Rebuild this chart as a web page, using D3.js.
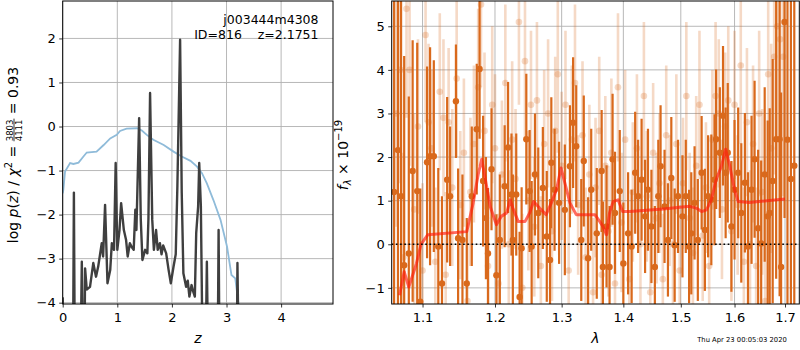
<!DOCTYPE html>
<html>
<head>
<meta charset="utf-8">
<script src="https://cdnjs.cloudflare.com/ajax/libs/d3/7.8.5/d3.min.js"></script>
<style>
  body { margin: 0; background: #fff; }
  svg  { font-family: "DejaVu Sans", sans-serif; }
  text { white-space: pre; }
</style>
</head>
<body>
<div id="chart"></div>
<script>

// ---- left panel: redshift probability ----
var zPz  = [0, 0.012, 0.043, 0.135, 0.196, 0.29, 0.38, 0.44, 0.62, 0.75,
            0.87, 0.99, 1.05, 1.17, 1.36, 1.45, 1.54, 1.66, 1.85, 2.03,
            2.18, 2.34, 2.46, 2.55, 2.64, 2.76, 2.89, 3.01, 3.09, 3.16,
            3.22, 3.3];
var logPz = [-1.52, -1.44, -1.02, -0.83, -0.85, -0.82, -0.68, -0.59, -0.57, -0.42,
             -0.27, -0.19, -0.10, -0.05, -0.04, -0.09, -0.19, -0.30, -0.42, -0.57,
             -0.68, -0.78, -0.91, -1.06, -1.29, -1.67, -2.12, -2.73, -3.37, -3.45,
             -4.03, -4.6];

var zChi   = [0, 0.02, 0.19, 0.205, 0.22, 0.33, 0.35, 0.37, 0.40, 0.41,
              0.44, 0.5, 0.56, 0.61, 0.65, 0.715, 0.74, 0.776, 0.82, 0.87,
              0.9, 0.94, 0.97, 1.0, 1.04, 1.07, 1.12, 1.16, 1.19, 1.23,
              1.27, 1.30, 1.33, 1.35, 1.40, 1.43, 1.46, 1.51, 1.55, 1.57,
              1.60, 1.64, 1.67, 1.71, 1.74, 1.78, 1.81, 1.84, 1.895, 1.94,
              1.98, 2.03, 2.07, 2.10, 2.15, 2.18, 2.21, 2.26, 2.29, 2.32,
              2.36, 2.39, 2.42, 2.445, 2.48, 2.50, 2.53, 2.56, 2.62, 2.64,
              2.66, 2.84, 2.855, 2.87, 3.19, 3.20, 3.22, 3.5];
var logChi = [-3.88, -5, -5, -1.5, -5, -5, -3.07, -5, -5, -3.22,
              -3.7, -3.64, -3.1, -3.41, -3.18, -2.65, -2.95, -1.78, -3.56, -3.26,
              -2.65, -2.8, -0.83, -2.8, -2.35, -1.74, -2.35, -2.57, -2.95, -2.65,
              -2.75, -2.8, -1.89, -2.35, 0.19, -2.12, -3.03, -2.8, -2.88, -2.1,
              0.76, -2.12, -2.8, -2.35, -2.8, -2.65, -2.9, -2.7, -2.88, -3.26,
              -3.56, -3.18, -2.9, -1.36, 1.97, -1.51, -3.33, -3.64, -3.5, -3.86,
              -3.6, -3.75, -3.86, -2.42, -1.82, -0.83, -1.8, -5, -5, -3.07,
              -5, -5, -2.35, -5, -5, -3.1, -5, -5];

var zTicks  = [0, 1, 2, 3, 4];
var pzTicks = [-4, -3, -2, -1, 0, 1, 2];

// ---- right panel: spectrum ----
var lamDark  = [1.063, 1.068, 1.072, 1.076, 1.082, 1.087, 1.093, 1.097, 1.106, 1.110,
                1.115, 1.121, 1.126, 1.133, 1.137, 1.145, 1.148, 1.154, 1.160, 1.167,
                1.174, 1.178, 1.183, 1.187, 1.190, 1.195, 1.202, 1.207, 1.214, 1.219,
                1.224, 1.226, 1.231, 1.236, 1.239, 1.246, 1.251, 1.254, 1.259, 1.264,
                1.271, 1.277, 1.282, 1.284, 1.289, 1.296, 1.305, 1.313, 1.318, 1.323,
                1.331, 1.335, 1.342, 1.347, 1.356, 1.364, 1.366, 1.372, 1.377, 1.382,
                1.386, 1.394, 1.400, 1.408, 1.414, 1.420, 1.425, 1.431, 1.437, 1.442,
                1.448, 1.454, 1.460, 1.464, 1.471, 1.477, 1.483, 1.489, 1.495, 1.503,
                1.509, 1.515, 1.519, 1.525, 1.531, 1.538, 1.544, 1.550, 1.556, 1.562,
                1.565, 1.572, 1.578, 1.583, 1.587, 1.594, 1.600, 1.607, 1.613, 1.620,
                1.626, 1.633, 1.639, 1.646, 1.652, 1.659, 1.665, 1.669, 1.675, 1.682,
                1.689, 1.692, 1.699, 1.705, 1.712, 1.719];
var fluxDark = [1.2, 2.16, 1.10, -0.48, -0.21, 1.68, 1.22, -1.32, 1.88, 2.02,
                2.02, -0.05, -0.90, 1.48, 1.10, 3.28, 0.14, 0.10, -0.90, 1.10,
                2.64, 4.02, 1.45, 0.60, -0.21, 1.72, -0.71, 0.10, 1.33, 2.22,
                1.14, 0.10, 1.14, -1.21, -0.09, 2.41, 1.22, -0.05, 1.60, 0.72,
                1.29, 0.18, -0.36, 1.87, 1.25, 0.95, 0.79, 1.79, 2.79, 2.25,
                0.10, 1.91, -0.32, 1.25, 0.25, 1.68, -0.52, 0.41, -0.52, 1.95,
                0.72, 1.22, -0.44, 0.25, -0.05, 1.64, 1.10, 1.48, 0.64, 1.25,
                0.41, -0.52, 1.10, 1.79, 0.87, 0.10, 1.52, -0.02, 1.10, 0.64,
                1.10, -0.05, 0.25, 0.95, 0.10, 1.64, 0.33, 1.10, 1.02, 1.48,
                2.41, 2.10, 2.95, 1.64, 2.10, 0.41, 1.25, 1.64, 0.72, 1.41,
                -0.05, 1.25, 1.95, 0.37, 0.02, 1.60, 0.64, 0.72, 1.45, 2.41,
                2.41, -0.52, 5.10, 2.4, 1.5, 1.8];
var errDark  = [6.0, 4.2, 5.0, 4.8, 3.6, 3.0, 3.4, 2.6, 2.2, 2.5,
                2.2, 1.8, 2.0, 1.9, 1.6, 1.3, 1.6, 1.5, 1.5, 1.6,
                1.5, 1.6, 1.5, 1.4, 1.5, 1.4, 1.4, 1.5, 1.4, 1.5,
                1.4, 1.5, 1.4, 1.5, 1.4, 1.5, 1.4, 1.5, 1.4, 1.5,
                1.4, 1.5, 1.4, 1.5, 1.4, 1.4, 1.5, 1.4, 1.5, 1.4,
                1.4, 1.5, 1.4, 1.4, 1.5, 1.4, 1.5, 1.4, 1.4, 1.5,
                1.4, 1.4, 1.4, 1.4, 1.3, 1.4, 1.3, 1.4, 1.3, 1.4,
                1.3, 1.4, 1.3, 1.4, 1.3, 1.3, 1.4, 1.3, 1.3, 1.4,
                1.3, 1.3, 1.4, 1.3, 1.4, 1.3, 1.4, 1.4, 1.5, 1.5,
                1.6, 1.5, 1.6, 1.5, 1.6, 1.5, 1.6, 1.5, 1.6, 1.6,
                1.7, 1.7, 1.8, 1.8, 1.9, 2.0, 2.2, 2.4, 2.8, 3.2,
                3.6, 4.0, 4.5, 5.5, 6.0, 6.0];

var lamLight  = [1.066, 1.071, 1.075, 1.079, 1.083, 1.089, 1.094, 1.100, 1.104, 1.108,
                 1.112, 1.117, 1.123, 1.128, 1.131, 1.135, 1.140, 1.146, 1.151, 1.156,
                 1.161, 1.165, 1.170, 1.176, 1.180, 1.185, 1.190, 1.196, 1.200, 1.205,
                 1.210, 1.215, 1.220, 1.225, 1.230, 1.235, 1.240, 1.244, 1.249, 1.253,
                 1.258, 1.262, 1.268, 1.273, 1.279, 1.285, 1.290, 1.294, 1.300, 1.306,
                 1.311, 1.316, 1.321, 1.326, 1.333, 1.338, 1.344, 1.350, 1.354, 1.360,
                 1.364, 1.370, 1.375, 1.380, 1.386, 1.391, 1.397, 1.403, 1.410, 1.416,
                 1.423, 1.429, 1.435, 1.440, 1.446, 1.451, 1.457, 1.462, 1.468, 1.474,
                 1.480, 1.486, 1.492, 1.498, 1.504, 1.510, 1.516, 1.522, 1.528, 1.534,
                 1.540, 1.546, 1.552, 1.558, 1.564, 1.570, 1.576, 1.582, 1.588, 1.594,
                 1.600, 1.606, 1.612, 1.618, 1.624, 1.630, 1.636, 1.642, 1.648, 1.654,
                 1.660, 1.666, 1.672, 1.678, 1.684, 1.690, 1.696];
var fluxLight = [3.0, 4.0, -0.3, 5.4, 4.0, 0.8, 2.7, -0.6, 4.8, 2.8,
                 2.2, -0.4, 3.5, 2.9, -0.7, 2.8, 1.3, 3.8, 0.9, 2.1,
                 -1.3, 1.2, 2.3, 3.6, 5.5, 2.6, -0.5, 3.2, 2.2, -0.9,
                 1.6, 3.7, 0.0, 2.4, 1.5, 5.1, -1.0, 4.2, 1.0, 3.2,
                 0.4, 3.3, -0.5, 2.3, 3.0, 0.3, 2.6, 3.9, 1.8, 3.2,
                 -0.6, 2.4, 3.7, 0.9, 2.5, -0.3, 1.6, -1.1, 1.3, 2.6,
                 -0.7, 1.8, 0.3, 2.1, -0.9, 3.6, 0.5, 2.4, -0.8, 1.2,
                 2.2, 0.0, 3.4, 1.1, -1.1, 2.1, 0.6, 1.4, -0.8, 2.5,
                 1.0, 0.0, 2.3, -0.6, 1.4, 3.4, 0.6, -0.2, 1.8, 3.2,
                 0.2, 1.3, -0.5, 2.4, 3.4, 3.0, 0.8, 2.7, 3.3, 0.3,
                 3.2, 0.9, 4.1, -0.4, 2.8, 0.0, 2.3, -0.5, 3.0, 1.2,
                 -1.3, 3.9, 2.2, 4.3, 5.0, 4.7, 4.3];
var errLight  = [2.6, 2.6, 2.4, 2.5, 2.2, 2.2, 2.0, 2.0, 2.0, 1.8,
                 1.8, 1.7, 1.8, 1.8, 1.9, 1.7, 1.8, 1.8, 1.7, 1.7,
                 1.8, 1.7, 1.8, 1.8, 1.9, 1.8, 1.7, 1.8, 1.7, 1.6,
                 1.7, 1.8, 1.7, 1.8, 1.6, 1.9, 1.7, 1.8, 1.6, 1.7,
                 1.6, 1.8, 1.6, 1.7, 1.7, 1.6, 1.7, 1.8, 1.7, 1.7,
                 1.6, 1.7, 1.8, 1.6, 1.7, 1.6, 1.6, 1.7, 1.6, 1.7,
                 1.6, 1.6, 1.5, 1.7, 1.6, 1.7, 1.6, 1.6, 1.5, 1.6,
                 1.7, 1.5, 1.7, 1.5, 1.6, 1.6, 1.5, 1.6, 1.5, 1.6,
                 1.5, 1.5, 1.6, 1.5, 1.5, 1.7, 1.5, 1.5, 1.6, 1.7,
                 1.5, 1.5, 1.6, 1.6, 1.7, 1.7, 1.6, 1.7, 1.7, 1.6,
                 1.7, 1.6, 1.8, 1.7, 1.7, 1.7, 1.8, 1.8, 1.9, 1.9,
                 2.0, 2.2, 2.4, 2.7, 3.0, 3.2, 3.2];

var lamModel  = [1.070, 1.076, 1.082, 1.092, 1.098, 1.107, 1.160, 1.169, 1.176, 1.181,
                 1.188, 1.193, 1.202, 1.209, 1.217, 1.222, 1.226, 1.234, 1.244, 1.251,
                 1.257, 1.266, 1.276, 1.284, 1.292, 1.299, 1.305, 1.313, 1.323, 1.353,
                 1.361, 1.366, 1.372, 1.377, 1.383, 1.391, 1.399, 1.411, 1.4685, 1.516,
                 1.528, 1.538, 1.547, 1.556, 1.565, 1.575, 1.583, 1.591, 1.600, 1.607,
                 1.629, 1.700];
var fluxModel = [-1.17, -0.63, -0.98, -0.44, 0.0, 0.22, 0.29, 0.95, 1.6, 1.95,
                 1.33, 0.87, 0.45, 0.64, 0.72, 1.02, 0.83, 0.52, 0.52, 0.72,
                 0.98, 0.83, 0.68, 0.95, 1.25, 1.75, 1.41, 0.95, 0.68, 0.68,
                 0.52, 0.41, 0.22, 0.72, 0.98, 1.02, 0.75, 0.75, 0.81, 0.87,
                 0.83, 0.75, 0.79, 1.02, 1.48, 1.79, 2.18, 1.79, 1.25, 0.98,
                 0.96, 1.04];

var lamTicks  = [1.1, 1.2, 1.3, 1.4, 1.5, 1.6, 1.7];
var fluxTicks = [-1, 0, 1, 2, 3, 4, 5];


var width  = 800,
    height = 350;

var orange = "#d9691c";

var svg = d3.select("#chart")
            .append("svg")
            .attr("width", width)
            .attr("height", height);

svg.append("rect").attr("width", width).attr("height", height).attr("fill", "#fff");

var L = { x0: 62.7, x1: 333, y0: 1, y1: 304 };
var R = { x0: 391.7, x1: 799.3, y0: 1, y1: 304 };

var xL = d3.scaleLinear().domain([0, 4.95]).range([L.x0, L.x1]);
var yL = d3.scaleLinear().domain([-4.03, 2.85]).range([L.y1, L.y0]);
var xR = d3.scaleLog().domain([1.06, 1.7294]).range([R.x0, R.x1]);
var yR = d3.scaleLinear().domain([-1.37, 5.58]).range([R.y1, R.y0]);

var defs = svg.append("defs");
defs.append("clipPath").attr("id", "clipL").append("rect")
    .attr("x", L.x0).attr("y", L.y0).attr("width", L.x1 - L.x0).attr("height", L.y1 - L.y0);
defs.append("clipPath").attr("id", "clipR").append("rect")
    .attr("x", R.x0).attr("y", R.y0).attr("width", R.x1 - R.x0).attr("height", R.y1 - R.y0);

// grid lines
function grid(box, xs, ys, xt, yt) {
  var g = svg.append("g").attr("stroke", "#b0b0b0").attr("stroke-width", 0.9);
  g.selectAll(".gx").data(xt).enter().append("line")
   .attr("x1", function(d) { return xs(d); }).attr("x2", function(d) { return xs(d); })
   .attr("y1", box.y0).attr("y2", box.y1);
  g.selectAll(".gy").data(yt).enter().append("line")
   .attr("y1", function(d) { return ys(d); }).attr("y2", function(d) { return ys(d); })
   .attr("x1", box.x0).attr("x2", box.x1);
}
grid(L, xL, yL, zTicks, pzTicks);
grid(R, xR, yR, lamTicks, fluxTicks);

// ---- left panel lines
var lp = svg.append("g").attr("clip-path", "url(#clipL)");

lp.append("path")
  .datum(d3.zip(zPz, logPz))
  .attr("fill", "none")
  .attr("stroke", "#8fbbd9")
  .attr("stroke-width", 1.8)
  .attr("d", d3.line().x(function(d) { return xL(d[0]); }).y(function(d) { return yL(d[1]); }));

lp.append("path")
  .datum(d3.zip(zChi, logChi))
  .attr("fill", "none")
  .attr("stroke", "#3f3f3f")
  .attr("stroke-width", 2.4)
  .attr("stroke-linejoin", "round")
  .attr("d", d3.line().x(function(d) { return xL(d[0]); }).y(function(d) { return yL(d[1]); }));

// ---- right panel spectrum
var rp = svg.append("g").attr("clip-path", "url(#clipR)");

var light = d3.range(lamLight.length);
rp.append("g").selectAll("line").data(light).enter().append("line")
  .attr("x1", function(i) { return xR(lamLight[i]); })
  .attr("x2", function(i) { return xR(lamLight[i]); })
  .attr("y1", function(i) { return yR(fluxLight[i] - errLight[i]); })
  .attr("y2", function(i) { return yR(fluxLight[i] + errLight[i]); })
  .attr("stroke", orange).attr("stroke-opacity", 0.25).attr("stroke-width", 2.6);
rp.append("g").selectAll("circle").data(light).enter().append("circle")
  .attr("cx", function(i) { return xR(lamLight[i]); })
  .attr("cy", function(i) { return yR(fluxLight[i]); })
  .attr("r", 3.3)
  .attr("fill", orange).attr("fill-opacity", 0.25);

var dark = d3.range(lamDark.length);
rp.append("g").selectAll("line").data(dark).enter().append("line")
  .attr("x1", function(i) { return xR(lamDark[i]); })
  .attr("x2", function(i) { return xR(lamDark[i]); })
  .attr("y1", function(i) { return yR(fluxDark[i] - errDark[i]); })
  .attr("y2", function(i) { return yR(fluxDark[i] + errDark[i]); })
  .attr("stroke", orange).attr("stroke-width", 2.2);
rp.append("g").selectAll("circle").data(dark).enter().append("circle")
  .attr("cx", function(i) { return xR(lamDark[i]); })
  .attr("cy", function(i) { return yR(fluxDark[i]); })
  .attr("r", 3.2)
  .attr("fill", orange);

rp.append("path")
  .datum(d3.zip(lamModel, fluxModel))
  .attr("fill", "none")
  .attr("stroke", "#ff1a0a")
  .attr("stroke-opacity", 0.65)
  .attr("stroke-width", 3)
  .attr("stroke-linejoin", "round")
  .attr("d", d3.line().x(function(d) { return xR(d[0]); }).y(function(d) { return yR(d[1]); }));

rp.append("line")
  .attr("x1", R.x0).attr("x2", R.x1)
  .attr("y1", yR(0)).attr("y2", yR(0))
  .attr("stroke", "#000").attr("stroke-width", 1.6)
  .attr("stroke-dasharray", "1.6,2.6");

// ---- axes
function styleAxis(g) {
  g.select(".domain").remove();
  g.selectAll(".tick line").attr("stroke", "#000").attr("stroke-width", 0.8);
  g.selectAll(".tick text").attr("fill", "#000")
   .attr("font-size", 13).attr("font-family", "DejaVu Sans");
}

var intFmt = d3.format("d");

svg.append("g").attr("transform", "translate(0," + L.y1 + ")")
   .call(d3.axisBottom(xL).tickValues(zTicks).tickFormat(intFmt).tickSize(3.5).tickPadding(5))
   .call(styleAxis);
svg.append("g").attr("transform", "translate(" + L.x0 + ",0)")
   .call(d3.axisLeft(yL).tickValues(pzTicks).tickFormat(intFmt).tickSize(3.5).tickPadding(3.5))
   .call(styleAxis);
svg.append("g").attr("transform", "translate(0," + R.y1 + ")")
   .call(d3.axisBottom(xR).tickValues(lamTicks).tickFormat(d3.format(".1f")).tickSize(3.5).tickPadding(5))
   .call(styleAxis);
svg.append("g").attr("transform", "translate(" + R.x0 + ",0)")
   .call(d3.axisLeft(yR).tickValues(fluxTicks).tickFormat(intFmt).tickSize(3.5).tickPadding(3.5))
   .call(styleAxis);

// frames
[L, R].forEach(function(b) {
  svg.append("rect")
     .attr("x", b.x0).attr("y", b.y0)
     .attr("width", b.x1 - b.x0).attr("height", b.y1 - b.y0)
     .attr("fill", "none").attr("stroke", "#000").attr("stroke-width", 1);
});

// ---- labels
svg.append("text").attr("x", (L.x0 + L.x1) / 2).attr("y", 343)
   .attr("text-anchor", "middle").attr("font-size", 14).attr("font-style", "italic").text("z");
svg.append("text").attr("x", (R.x0 + R.x1) / 2).attr("y", 343)
   .attr("text-anchor", "middle").attr("font-size", 14).attr("font-style", "italic").text("λ");

svg.append("text").attr("x", 318.5).attr("y", 24)
   .attr("text-anchor", "end").attr("font-size", 12.5).text("j003444m4308");
svg.append("text").attr("x", 318.5).attr("y", 38.5)
   .attr("text-anchor", "end").attr("font-size", 12.5).text("ID=816    z=2.1751");

svg.append("text").attr("x", 742).attr("y", 341.5)
   .attr("text-anchor", "middle").attr("font-size", 6.8).text("Thu Apr 23 00:05:03 2020");

// left y label: log p(z) / chi^2 = 3803/4111 = 0.93
var yl  = svg.append("g").attr("transform", "translate(18,155) rotate(-90)");
var yli = yl.append("g");
var t1  = yli.append("text").attr("font-size", 14);
t1.append("tspan").text("log ");
t1.append("tspan").attr("font-style", "italic").text("p");
t1.append("tspan").text("(");
t1.append("tspan").attr("font-style", "italic").text("z");
t1.append("tspan").text(") / ");
t1.append("tspan").attr("font-style", "italic").text("χ");
t1.append("tspan").attr("font-size", 10).attr("dy", -6).text("2");
t1.append("tspan").attr("dy", 6).text(" = ");
var w1 = t1.node().getComputedTextLength();

var num = yli.append("text").attr("font-size", 8.5).attr("y", -5.5).attr("x", w1).text("3803");
var den = yli.append("text").attr("font-size", 8.5).attr("y", 3.5).attr("x", w1).text("4111");
var fw  = Math.max(num.node().getComputedTextLength(), den.node().getComputedTextLength()) + 1;
yli.append("line").attr("x1", w1).attr("x2", w1 + fw).attr("y1", -4).attr("y2", -4)
   .attr("stroke", "#000").attr("stroke-width", 0.8);

var t3 = yli.append("text").attr("font-size", 14).attr("x", w1 + fw).text(" = 0.93");
var total = w1 + fw + t3.node().getComputedTextLength();
yli.attr("transform", "translate(" + (-total / 2) + ",0)");

// right y label: f_lambda x 10^-19
var yr = svg.append("text").attr("transform", "translate(348,155) rotate(-90)")
            .attr("text-anchor", "middle").attr("font-size", 14);
yr.append("tspan").attr("font-style", "italic").text("f");
yr.append("tspan").attr("font-size", 10).attr("font-style", "italic").attr("dy", 3).text("λ");
yr.append("tspan").attr("dy", -3).text(" × 10");
yr.append("tspan").attr("font-size", 10).attr("dy", -6).text("−19");

</script>
</body>
</html>
